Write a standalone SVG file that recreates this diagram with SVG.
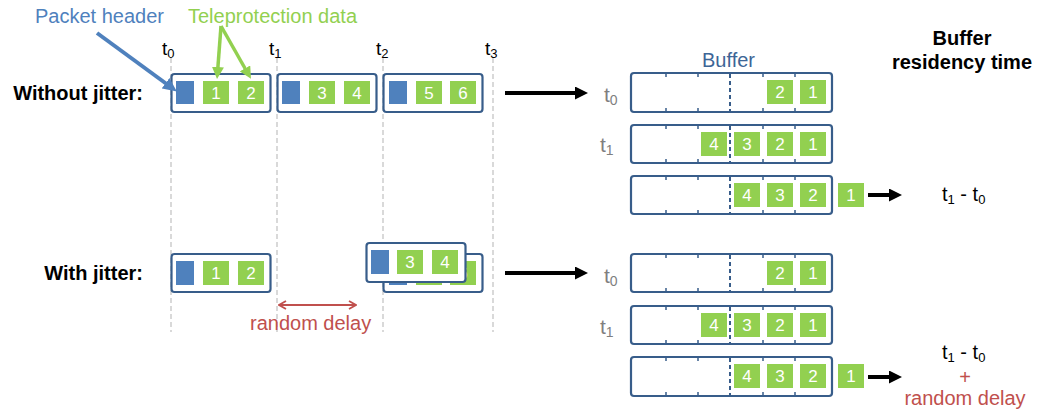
<svg xmlns="http://www.w3.org/2000/svg" width="1039" height="420" viewBox="0 0 1039 420">
  <style>
    text { font-family: "Liberation Sans", Arial, sans-serif; }
    .box { fill: #ffffff; stroke: #385d8a; stroke-width: 2.2; }
    .hdr { fill: #4f81bd; }
    .dat { fill: #92d050; }
    .num { fill: #ffffff; font-size: 17px; text-anchor: middle; }
    .grid { stroke: #b3b3b3; stroke-width: 1; stroke-dasharray: 5 3; fill: none; }
    .tick { stroke: #385d8a; stroke-width: 1.5; }
    .mid { stroke: #385d8a; stroke-width: 2; stroke-dasharray: 4 3; }
    .lbl { font-size: 20px; font-weight: bold; fill: #000000; text-anchor: end; }
    .tt { font-size: 19px; fill: #000000; }
    .tg { font-size: 21px; fill: #7f7f7f; }
    .tr { font-size: 20px; fill: #000000; }
    .red { fill: #c0504d; font-size: 20px; }
  </style>
  <defs>
    <marker id="ahBlue" markerUnits="userSpaceOnUse" markerWidth="14" markerHeight="13" refX="3" refY="6.5" orient="auto">
      <path d="M0,0 L14,6.5 L0,13 z" fill="#4f81bd"/>
    </marker>
    <marker id="ahGreen" markerUnits="userSpaceOnUse" markerWidth="12" markerHeight="12" refX="3" refY="6" orient="auto">
      <path d="M0,0 L12,6 L0,12 z" fill="#92d050"/>
    </marker>
    <marker id="ahBlack" markerUnits="userSpaceOnUse" markerWidth="13" markerHeight="13" refX="2" refY="6.5" orient="auto">
      <path d="M0,0 L13,6.5 L0,13 z" fill="#000000"/>
    </marker>
    <marker id="ahRed" markerUnits="userSpaceOnUse" markerWidth="9" markerHeight="10" refX="8" refY="5" orient="auto-start-reverse">
      <path d="M1,1 L8,5 L1,9" fill="none" stroke="#c0504d" stroke-width="1.8"/>
    </marker>
  </defs>

  <!-- time grid -->
  <g id="timeline">
    <line class="grid" x1="171" y1="58" x2="171" y2="332"/>
    <line class="grid" x1="277" y1="58" x2="277" y2="332"/>
    <line class="grid" x1="383" y1="58" x2="383" y2="332"/>
    <line class="grid" x1="493" y1="58" x2="493" y2="332"/>
    <text class="tt" x="162" y="55">t<tspan dy="3" font-size="13">0</tspan></text>
    <text class="tt" x="269" y="55">t<tspan dy="3" font-size="13">1</tspan></text>
    <text class="tt" x="376" y="55">t<tspan dy="3" font-size="13">2</tspan></text>
    <text class="tt" x="485" y="55">t<tspan dy="3" font-size="13">3</tspan></text>
  </g>

  <!-- legend labels -->
  <g id="legend">
    <text x="35" y="23" font-size="20" fill="#4f81bd">Packet header</text>
    <text x="188" y="23" font-size="20" fill="#92d050">Teleprotection data</text>
  </g>

  <!-- row labels -->
  <text class="lbl" x="143" y="100">Without jitter:</text>
  <text class="lbl" x="143" y="280">With jitter:</text>

  <!-- packets without jitter -->
  <g id="pkt-a1">
    <rect class="box" x="171.5" y="74" width="99" height="38" rx="3"/>
    <rect class="hdr" x="176" y="81" width="18" height="23"/>
    <rect class="dat" x="203" y="81" width="26" height="23"/>
    <rect class="dat" x="238" y="81" width="26" height="23"/>
    <text class="num" x="216" y="98.5">1</text>
    <text class="num" x="251" y="98.5">2</text>
  </g>
  <g id="pkt-a2">
    <rect class="box" x="277.5" y="74" width="99" height="38" rx="3"/>
    <rect class="hdr" x="282" y="81" width="18" height="23"/>
    <rect class="dat" x="309" y="81" width="26" height="23"/>
    <rect class="dat" x="344" y="81" width="26" height="23"/>
    <text class="num" x="322" y="98.5">3</text>
    <text class="num" x="357" y="98.5">4</text>
  </g>
  <g id="pkt-a3">
    <rect class="box" x="383.5" y="74" width="99" height="38" rx="3"/>
    <rect class="hdr" x="389" y="81" width="18" height="23"/>
    <rect class="dat" x="416" y="81" width="26" height="23"/>
    <rect class="dat" x="450" y="81" width="26" height="23"/>
    <text class="num" x="429" y="98.5">5</text>
    <text class="num" x="463" y="98.5">6</text>
  </g>

  <!-- packets with jitter -->
  <g id="pkt-b1">
    <rect class="box" x="171.5" y="254" width="99" height="38" rx="3"/>
    <rect class="hdr" x="176" y="261" width="18" height="24"/>
    <rect class="dat" x="203" y="261" width="26" height="24"/>
    <rect class="dat" x="238" y="261" width="26" height="24"/>
    <text class="num" x="216" y="279">1</text>
    <text class="num" x="251" y="279">2</text>
  </g>
  <g id="pkt-b3">
    <rect class="box" x="383.5" y="254" width="99" height="38" rx="3"/>
    <rect class="hdr" x="389" y="261" width="18" height="24"/>
    <rect class="dat" x="416" y="261" width="26" height="24"/>
    <rect class="dat" x="450" y="261" width="26" height="24"/>
    <text class="num" x="429" y="279">5</text>
    <text class="num" x="463" y="279">6</text>
  </g>
  <g id="pkt-b2">
    <rect class="box" x="366.5" y="243" width="99" height="39" rx="3"/>
    <rect class="hdr" x="371" y="250" width="18" height="24"/>
    <rect class="dat" x="397" y="250" width="26" height="24"/>
    <rect class="dat" x="432" y="250" width="26" height="24"/>
    <text class="num" x="410" y="268">3</text>
    <text class="num" x="445" y="268">4</text>
  </g>

  <!-- random delay span -->
  <g id="delay">
    <text class="red" x="250" y="330">random delay</text>
  </g>

  <!-- buffer title and headings -->
  <text x="702" y="67" font-size="20" fill="#3d6596">Buffer</text>
  <g id="residency-title">
    <text x="962" y="45" font-size="20" font-weight="bold" text-anchor="middle">Buffer</text>
    <text x="962" y="69" font-size="20" font-weight="bold" text-anchor="middle">residency time</text>
  </g>

  <!-- buffer states without jitter -->
  <g id="buf-a0">
    <text class="tg" x="604" y="102">t<tspan dy="3" font-size="14">0</tspan></text>
    <rect class="box" x="631" y="73" width="201" height="39" rx="3"/>
    <path class="tick" d="M666,73v4M698,73v4M763,73v4M795,73v4M666,112v-4M698,112v-4M763,112v-4M795,112v-4"/>
    <line class="mid" x1="730" y1="74" x2="730" y2="111"/>
    <rect class="dat" x="767" y="80" width="26" height="24"/>
    <rect class="dat" x="800" y="80" width="26" height="24"/>
    <text class="num" x="780" y="98">2</text>
    <text class="num" x="813" y="98">1</text>
  </g>
  <g id="buf-a1">
    <text class="tg" x="600" y="152">t<tspan dy="3" font-size="14">1</tspan></text>
    <rect class="box" x="631" y="125" width="201" height="38" rx="3"/>
    <path class="tick" d="M666,125v4M698,125v4M763,125v4M795,125v4M666,163v-4M698,163v-4M763,163v-4M795,163v-4"/>
    <line class="mid" x1="730" y1="126" x2="730" y2="162"/>
    <rect class="dat" x="701" y="132" width="26" height="24"/>
    <rect class="dat" x="734" y="132" width="26" height="24"/>
    <rect class="dat" x="767" y="132" width="26" height="24"/>
    <rect class="dat" x="800" y="132" width="26" height="24"/>
    <text class="num" x="714" y="150">4</text>
    <text class="num" x="747" y="150">3</text>
    <text class="num" x="780" y="150">2</text>
    <text class="num" x="813" y="150">1</text>
  </g>
  <g id="buf-a2">
    <rect class="box" x="631" y="176" width="201" height="38" rx="3"/>
    <path class="tick" d="M666,176v4M698,176v4M763,176v4M795,176v4M666,214v-4M698,214v-4M763,214v-4M795,214v-4"/>
    <line class="mid" x1="730" y1="177" x2="730" y2="213"/>
    <rect class="dat" x="734" y="183" width="26" height="24"/>
    <rect class="dat" x="767" y="183" width="26" height="24"/>
    <rect class="dat" x="800" y="183" width="26" height="24"/>
    <rect class="dat" x="838" y="183" width="26" height="24"/>
    <text class="num" x="747" y="201">4</text>
    <text class="num" x="780" y="201">3</text>
    <text class="num" x="813" y="201">2</text>
    <text class="num" x="851" y="201">1</text>
  </g>
  <g id="res-a">
    <text class="tr" x="942" y="201">t<tspan dy="3" font-size="13">1</tspan><tspan dy="-3"> - t</tspan><tspan dy="3" font-size="13">0</tspan></text>
  </g>

  <!-- buffer states with jitter -->
  <g id="buf-b0">
    <text class="tg" x="604" y="283">t<tspan dy="3" font-size="14">0</tspan></text>
    <rect class="box" x="631" y="254" width="201" height="38" rx="3"/>
    <path class="tick" d="M666,254v4M698,254v4M763,254v4M795,254v4M666,292v-4M698,292v-4M763,292v-4M795,292v-4"/>
    <line class="mid" x1="730" y1="255" x2="730" y2="291"/>
    <rect class="dat" x="767" y="261" width="26" height="24"/>
    <rect class="dat" x="800" y="261" width="26" height="24"/>
    <text class="num" x="780" y="279">2</text>
    <text class="num" x="813" y="279">1</text>
  </g>
  <g id="buf-b1">
    <text class="tg" x="600" y="334">t<tspan dy="3" font-size="14">1</tspan></text>
    <rect class="box" x="631" y="306" width="201" height="38" rx="3"/>
    <path class="tick" d="M666,306v4M698,306v4M763,306v4M795,306v4M666,344v-4M698,344v-4M763,344v-4M795,344v-4"/>
    <line class="mid" x1="730" y1="307" x2="730" y2="343"/>
    <rect class="dat" x="701" y="313" width="26" height="24"/>
    <rect class="dat" x="734" y="313" width="26" height="24"/>
    <rect class="dat" x="767" y="313" width="26" height="24"/>
    <rect class="dat" x="800" y="313" width="26" height="24"/>
    <text class="num" x="714" y="331">4</text>
    <text class="num" x="747" y="331">3</text>
    <text class="num" x="780" y="331">2</text>
    <text class="num" x="813" y="331">1</text>
  </g>
  <g id="buf-b2">
    <rect class="box" x="631" y="357" width="201" height="39" rx="3"/>
    <path class="tick" d="M666,357v4M698,357v4M763,357v4M795,357v4M666,396v-4M698,396v-4M763,396v-4M795,396v-4"/>
    <line class="mid" x1="730" y1="358" x2="730" y2="395"/>
    <rect class="dat" x="734" y="364" width="26" height="24"/>
    <rect class="dat" x="767" y="364" width="26" height="24"/>
    <rect class="dat" x="800" y="364" width="26" height="24"/>
    <rect class="dat" x="838" y="364" width="26" height="24"/>
    <text class="num" x="747" y="382">4</text>
    <text class="num" x="780" y="382">3</text>
    <text class="num" x="813" y="382">2</text>
    <text class="num" x="851" y="382">1</text>
  </g>
  <g id="res-b">
    <text class="tr" x="942" y="359">t<tspan dy="3" font-size="13">1</tspan><tspan dy="-3"> - t</tspan><tspan dy="3" font-size="13">0</tspan></text>
    <text class="red" x="965" y="384" text-anchor="middle">+</text>
    <text class="red" x="965" y="405" text-anchor="middle">random delay</text>
  </g>

  <!-- connectors -->
  <g id="connectors" fill="none">
    <line x1="97" y1="33" x2="168" y2="85" stroke="#4f81bd" stroke-width="4" marker-end="url(#ahBlue)"/>
    <line x1="221" y1="26" x2="217.7" y2="70" stroke="#92d050" stroke-width="3.5" marker-end="url(#ahGreen)"/>
    <line x1="221" y1="26" x2="246.5" y2="71" stroke="#92d050" stroke-width="3.5" marker-end="url(#ahGreen)"/>
    <line x1="505" y1="93" x2="577" y2="93" stroke="#000000" stroke-width="4" marker-end="url(#ahBlack)"/>
    <line x1="505" y1="273" x2="577" y2="273" stroke="#000000" stroke-width="4" marker-end="url(#ahBlack)"/>
    <line x1="868" y1="195" x2="891" y2="195" stroke="#000000" stroke-width="4" marker-end="url(#ahBlack)"/>
    <line x1="868" y1="377" x2="891" y2="377" stroke="#000000" stroke-width="4" marker-end="url(#ahBlack)"/>
    <line x1="279" y1="305" x2="356" y2="305" stroke="#c0504d" stroke-width="2" marker-start="url(#ahRed)" marker-end="url(#ahRed)"/>
  </g>
</svg>
